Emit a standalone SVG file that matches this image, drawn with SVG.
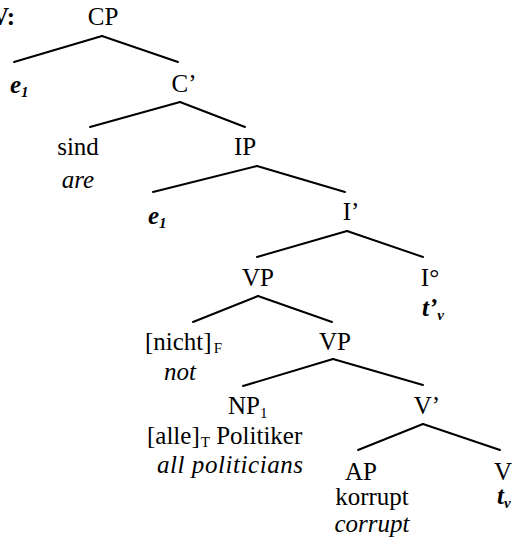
<svg xmlns="http://www.w3.org/2000/svg" width="512" height="543" viewBox="0 0 512 543">
<style>
text{font-family:"Liberation Serif","Times New Roman",serif;font-size:25px;fill:#000}
.m{text-anchor:middle}
.i{font-style:italic}
.b{font-weight:bold}
.s{font-size:15px}
line{stroke:#000;stroke-width:2;stroke-linecap:round}
</style>
<rect width="512" height="543" fill="#fff"/>
<g id="connectors">
<line x1="102" y1="36" x2="14" y2="62"/>
<line x1="102" y1="36" x2="178" y2="62"/>
<line x1="180" y1="102" x2="90" y2="127"/>
<line x1="180" y1="102" x2="245" y2="127"/>
<line x1="257" y1="166" x2="153" y2="192"/>
<line x1="257" y1="166" x2="345" y2="192"/>
<line x1="347" y1="231" x2="257" y2="257"/>
<line x1="347" y1="231" x2="423" y2="257"/>
<line x1="258" y1="296" x2="193" y2="322"/>
<line x1="258" y1="296" x2="332" y2="322"/>
<line x1="333" y1="359" x2="243" y2="386"/>
<line x1="333" y1="359" x2="423" y2="385"/>
<line x1="423" y1="424" x2="358" y2="450"/>
<line x1="423" y1="424" x2="500" y2="450"/>
</g>
<g id="label"><text x="15" y="25" class="b" style="text-anchor:end">V:</text></g>
<g id="CP"><text x="103" y="25" class="m">CP</text></g>
<g id="e1a"><text x="10" y="93" class="i b">e<tspan class="s" dy="4">1</tspan></text></g>
<g id="C1"><text x="184" y="92" class="m">C’</text></g>
<g id="sind"><text x="78" y="155" class="m">sind</text><text x="78" y="188" class="m i">are</text></g>
<g id="IP"><text x="245" y="155" class="m">IP</text></g>
<g id="e1b"><text x="148" y="224" class="i b">e<tspan class="s" dy="4">1</tspan></text></g>
<g id="I1"><text x="351" y="220" class="m">I’</text></g>
<g id="VP1"><text x="258" y="286" class="m">VP</text></g>
<g id="I0"><text x="430" y="286" class="m">I°</text><text x="422" y="316" class="i b">t’<tspan class="s" dy="4">v</tspan></text></g>
<g id="nicht"><text x="145" y="350">[nicht]<tspan class="s" dx="2" dy="3">F</tspan></text><text x="180" y="380" class="m i">not</text></g>
<g id="VP2"><text x="335" y="350" class="m">VP</text></g>
<g id="NP1"><text x="228" y="414">NP<tspan class="s" dy="4">1</tspan></text><text x="147" y="444">[alle]<tspan class="s" dx="1" dy="3">T</tspan><tspan dy="-3"> Politiker</tspan></text><text x="157" y="473" class="i" textLength="146">all politicians</text></g>
<g id="V1"><text x="427" y="414" class="m">V’</text></g>
<g id="AP"><text x="361" y="480" class="m">AP</text><text x="372" y="505" class="m">korrupt</text><text x="372" y="532" class="m i">corrupt</text></g>
<g id="V"><text x="494" y="480">V</text><text x="497" y="504" class="i b">t<tspan class="s" dy="4">v</tspan></text></g>
</svg>
